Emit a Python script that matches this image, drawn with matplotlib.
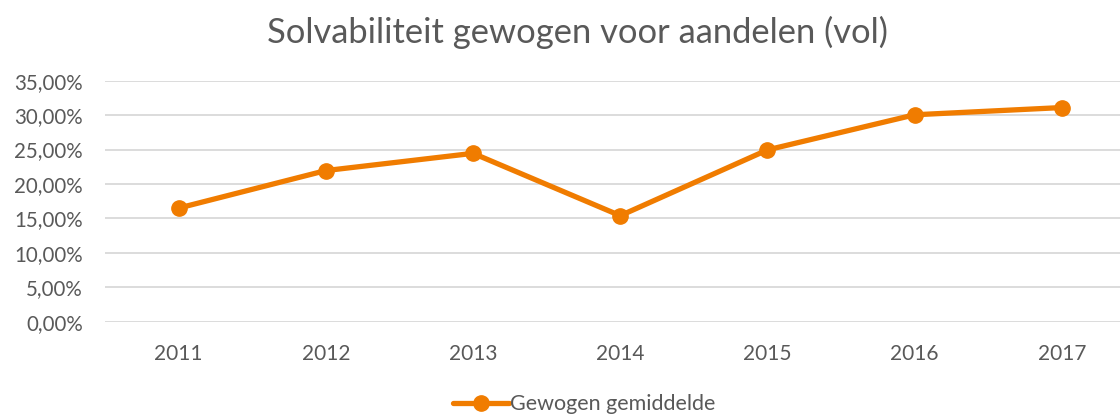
import matplotlib.pyplot as plt
from matplotlib.ticker import FuncFormatter

plt.rcParams['font.family'] = ['Lato', 'DejaVu Sans']

years = ['2011', '2012', '2013', '2014', '2015', '2016', '2017']
gewogen = [16.5, 21.95, 24.45, 15.4, 24.95, 30.05, 31.1]

grey = '#595959'
orange = '#F07C00'

fig = plt.figure(figsize=(11.2, 4.17), dpi=100)
ax = fig.add_axes([0.0938, 0.2285, 0.9062, 0.578])

x = range(len(years))
ax.plot(x, gewogen, color=orange, linewidth=3.8, marker='o', markersize=11,
        label='Gewogen gemiddelde', solid_capstyle='round', zorder=3)

ax.set_ylim(0, 35)
ax.set_yticks(range(0, 36, 5))
ax.yaxis.set_major_formatter(FuncFormatter(lambda v, p: f"{v:.2f}".replace('.', ',') + '%'))
ax.set_xlim(-0.5, 6.395)
ax.set_xticks(list(x))
ax.set_xticklabels(years)

ax.grid(axis='y', color='#D9D9D9', linewidth=1.3)
ax.set_axisbelow(True)
for s in ax.spines.values():
    s.set_visible(False)
ax.tick_params(length=0, colors=grey)
ax.tick_params(axis='x', pad=16, labelsize=15)
ax.tick_params(axis='y', pad=16, labelsize=14.8)

fig.text(0.516, 0.897, 'Solvabiliteit gewogen voor aandelen (vol)', ha='center', va='baseline',
         fontsize=24.8, color=grey)

fig.legend(loc='center', bbox_to_anchor=(0.522, 0.03), frameon=False, fontsize=15.5,
           labelcolor=grey, handlelength=2.6, handletextpad=0.05)

fig.savefig('out.png', dpi=100)
